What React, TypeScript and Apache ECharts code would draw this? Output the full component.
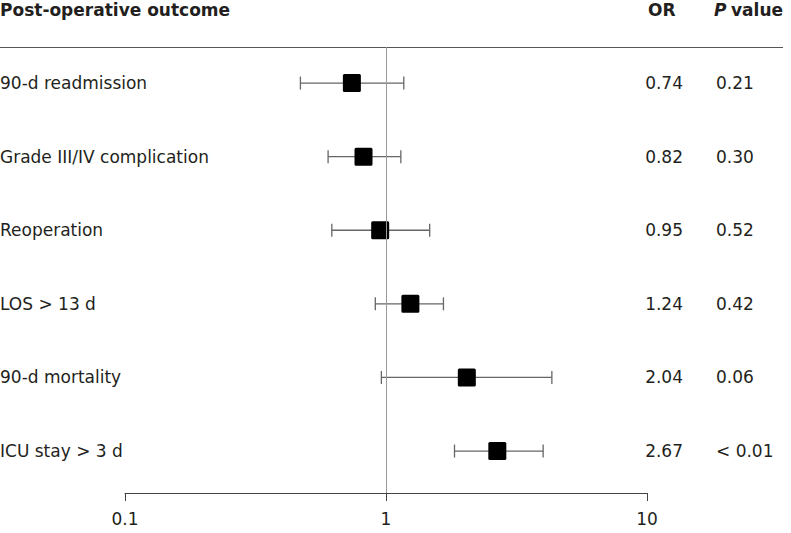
import React, { useEffect, useRef } from "react";
import * as echarts from "echarts";

const outcomes = [
  "90-d readmission",
  "Grade III/IV complication",
  "Reoperation",
  "LOS > 13 d",
  "90-d mortality",
  "ICU stay > 3 d",
];
const oddsRatios = [0.74, 0.82, 0.95, 1.24, 2.04, 2.67];
const orLabels = ["0.74", "0.82", "0.95", "1.24", "2.04", "2.67"];
const ciLower = [0.47, 0.6, 0.62, 0.91, 0.96, 1.83];
const ciUpper = [1.17, 1.14, 1.47, 1.66, 4.32, 4.0];
const pValues = ["0.21", "0.30", "0.52", "0.42", "0.06", "< 0.01"];
const xTicks = [0.1, 1, 10];

const FONT = "DejaVu Sans";
const TEXT = "#231f20";

export default function App() {
  const ref = useRef<HTMLDivElement>(null);
  useEffect(() => {
    if (!ref.current) return;
    const chart = echarts.init(ref.current, null, { renderer: "svg" });
    const data = outcomes.map((_, i) => [i, ciLower[i], ciUpper[i], oddsRatios[i]]);
    chart.setOption({
      animation: false,
      backgroundColor: "#fff",
      grid: { left: 125, right: 144, top: 47, bottom: 40 },
      xAxis: {
        type: "log",
        logBase: 10,
        min: xTicks[0],
        max: xTicks[xTicks.length - 1],
        axisLine: { show: true, onZero: false, lineStyle: { color: "#444", width: 1 } },
        axisTick: { show: true, length: 8, lineStyle: { color: "#444" } },
        minorTick: { show: false },
        splitLine: { show: false },
        axisLabel: {
          color: TEXT,
          fontFamily: FONT,
          fontSize: 17,
          margin: 17,
          formatter: (v: number) => String(v),
        },
      },
      yAxis: {
        type: "value",
        inverse: true,
        min: -0.49,
        max: 5.57,
        show: false,
      },
      graphic: [
        {
          type: "line",
          shape: { x1: 0, y1: 47.5, x2: 783, y2: 47.5 },
          style: { stroke: "#555", lineWidth: 1.2 },
        },
        {
          type: "text",
          left: 0,
          top: 1,
          style: { text: "Post-operative outcome", font: `bold 17px "${FONT}"`, fill: TEXT },
        },
        {
          type: "text",
          left: 648,
          top: 1,
          style: { text: "OR", font: `bold 17px "${FONT}"`, fill: TEXT },
        },
        {
          type: "text",
          left: 714,
          top: 1,
          style: { text: "P", font: `italic bold 17px "${FONT}"`, fill: TEXT },
        },
        {
          type: "text",
          left: 731,
          top: 1,
          style: { text: "value", font: `bold 17px "${FONT}"`, fill: TEXT },
        },
      ],
      series: [
        {
          type: "custom",
          data,
          encode: { x: [1, 2, 3], y: 0 },
          renderItem: (params: any, api: any) => {
            const idx = api.value(0);
            const lo = api.coord([api.value(1), idx]);
            const hi = api.coord([api.value(2), idx]);
            const mid = api.coord([api.value(3), idx]);
            const y = mid[1];
            const cap = 6.5;
            const sq = 18;
            const lineStyle = { stroke: "#666", lineWidth: 1.3 };
            return {
              type: "group",
              children: [
                { type: "line", shape: { x1: lo[0], y1: y, x2: hi[0], y2: y }, style: lineStyle },
                { type: "line", shape: { x1: lo[0], y1: y - cap, x2: lo[0], y2: y + cap }, style: lineStyle },
                { type: "line", shape: { x1: hi[0], y1: y - cap, x2: hi[0], y2: y + cap }, style: lineStyle },
                {
                  type: "rect",
                  shape: { x: mid[0] - sq / 2, y: y - sq / 2, width: sq, height: sq, r: 1.5 },
                  style: { fill: "#000" },
                },
                {
                  type: "text",
                  style: {
                    x: 0,
                    y,
                    text: outcomes[idx],
                    fill: TEXT,
                    font: `17px "${FONT}"`,
                    align: "left",
                    verticalAlign: "middle",
                  },
                },
                {
                  type: "text",
                  style: {
                    x: 683,
                    y,
                    text: orLabels[idx],
                    fill: TEXT,
                    font: `17px "${FONT}"`,
                    align: "right",
                    verticalAlign: "middle",
                  },
                },
                {
                  type: "text",
                  style: {
                    x: 716,
                    y,
                    text: pValues[idx],
                    fill: TEXT,
                    font: `17px "${FONT}"`,
                    align: "left",
                    verticalAlign: "middle",
                  },
                },
              ],
            };
          },
          markLine: {
            silent: true,
            symbol: "none",
            label: { show: false },
            lineStyle: { color: "#999", width: 1, type: "solid" },
            data: [{ xAxis: 1 }],
          },
          z: 3,
        },
      ],
    });
    return () => chart.dispose();
  }, []);
  return (
    <div
      ref={ref}
      style={{ position: "fixed", left: 0, top: 0, width: 791, height: 533 }}
    />
  );
}
